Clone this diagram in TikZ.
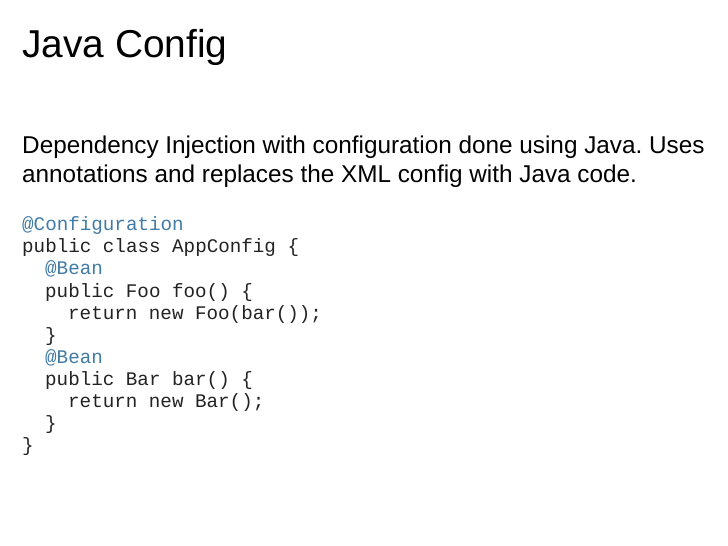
\documentclass[tikz,border=0pt]{standalone}
\usepackage{fontspec}
\setmainfont{Liberation Sans}
\setmonofont{Liberation Mono}
\definecolor{annot}{RGB}{66,124,166}
\definecolor{codetxt}{RGB}{35,35,35}
\frenchspacing
\begin{document}
\begin{tikzpicture}[x=1bp,y=-1bp,
  title/.style={anchor=base west,inner sep=0pt,font=\fontsize{39}{44}\selectfont},
  body/.style={anchor=base west,inner sep=0pt,font=\fontsize{24.4}{29}\selectfont},
  code/.style={anchor=base west,inner sep=0pt,font=\ttfamily\fontsize{19.3}{22}\selectfont,text=codetxt},
  ann/.style={code,text=annot}]
\useasboundingbox[fill=white] (0,0) rectangle (728,546);
\node[title] (t) at (22,58) {Java Config};
\node[body] (b1) at (22,154) {Dependency Injection with configuration done using Java. Uses};
\node[body] (b2) at (22,183) {annotations and replaces the XML config with Java code.};
\def\cw{11.5}
\node[ann]  (c1)  at (22,231) {@Configuration};
\node[code] (c2)  at (22,253) {public class AppConfig \{};
\node[ann]  (c3)  at (22+2*\cw,275) {@Bean};
\node[code] (c4)  at (22+2*\cw,297) {public Foo foo() \{};
\node[code] (c5)  at (22+4*\cw,319) {return new Foo(bar());};
\node[code] (c6)  at (22+2*\cw,341) {\}};
\node[ann]  (c7)  at (22+2*\cw,363) {@Bean};
\node[code] (c8)  at (22+2*\cw,385) {public Bar bar() \{};
\node[code] (c9)  at (22+4*\cw,407) {return new Bar();};
\node[code] (c10) at (22+2*\cw,429) {\}};
\node[code] (c11) at (22,451) {\}};
\end{tikzpicture}
\end{document}
